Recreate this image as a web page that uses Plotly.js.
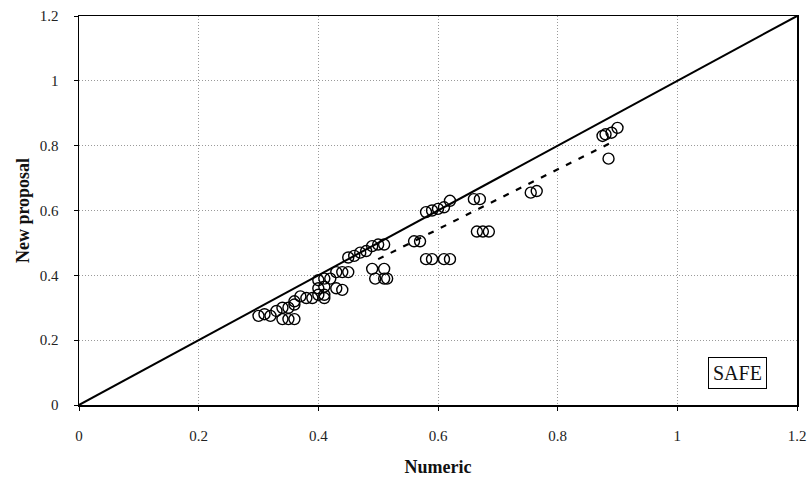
<!DOCTYPE html>
<html><head><meta charset="utf-8">
<script src="https://cdn.plot.ly/plotly-3.0.1.min.js"></script>
<style>html,body{margin:0;padding:0;background:#fff}#chart{width:810px;height:483px}</style>
</head><body><div id="chart"></div>
<script>
var numericX = [0.30,0.31,0.32,0.33,0.34,0.34,0.35,0.36,0.35,0.36,0.36,0.37,0.38,0.39,0.40,0.41,0.41,0.40,0.41,0.43,0.44,0.40,0.41,0.42,0.43,0.44,0.45,0.45,0.46,0.47,0.48,0.49,0.50,0.51,0.49,0.495,0.51,0.515,0.51,0.56,0.57,0.58,0.59,0.61,0.62,0.58,0.59,0.60,0.61,0.62,0.66,0.67,0.665,0.675,0.685,0.755,0.765,0.875,0.88,0.89,0.90,0.885];
var proposalY = [0.275,0.28,0.275,0.29,0.30,0.265,0.265,0.265,0.30,0.31,0.32,0.335,0.33,0.33,0.34,0.34,0.33,0.36,0.365,0.36,0.355,0.385,0.39,0.39,0.41,0.41,0.41,0.455,0.46,0.47,0.475,0.49,0.495,0.495,0.42,0.39,0.39,0.39,0.42,0.505,0.505,0.45,0.45,0.45,0.45,0.595,0.60,0.605,0.61,0.63,0.635,0.635,0.535,0.535,0.535,0.655,0.66,0.83,0.835,0.84,0.855,0.76];
var trendX = [0.50, 0.89];
var trendY = [0.45, 0.81];
var diagX = [0, 1.2];
var diagY = [0, 1.2];
var tickVals = [0,0.2,0.4,0.6,0.8,1,1.2];
var tickText = ['0','0.2','0.4','0.6','0.8','1','1.2'];

var serif = 'Liberation Serif, Times New Roman, serif';
var traces = [
  {x: diagX, y: diagY, mode: 'lines', line: {color: '#000', width: 2}, hoverinfo: 'skip'},
  {x: trendX, y: trendY, mode: 'lines', line: {color: '#000', width: 2.2, dash: '6px,8px'}, hoverinfo: 'skip'},
  {x: numericX, y: proposalY, mode: 'markers',
   marker: {symbol: 'circle-open', size: 11, color: '#000', line: {width: 1.4, color: '#000'}}}
];
var axisCommon = {
  range: [0, 1.2], tickvals: tickVals, ticktext: tickText,
  showgrid: true, gridcolor: '#9a9a9a', griddash: '1px,2px', gridwidth: 1,
  showline: true, linecolor: '#000', linewidth: 1.5, mirror: true,
  ticks: 'outside', ticklen: 4, tickcolor: '#000',
  zeroline: false, tickfont: {family: serif, size: 15, color: '#222'}
};
var layout = {
  width: 810, height: 483, showlegend: false,
  margin: {l: 79, r: 13, t: 16, b: 78},
  paper_bgcolor: '#fff', plot_bgcolor: '#fff',
  xaxis: Object.assign({}, axisCommon, {ticklabelstandoff: 12, title: {text: '<b>Numeric</b>', font: {family: serif, size: 18, color: '#111'}, standoff: 18}}),
  yaxis: Object.assign({}, axisCommon, {ticklabelstandoff: 12, title: {text: '<b>New proposal</b>', font: {family: serif, size: 18, color: '#111'}, standoff: 5}}),
  annotations: [{x: 1.10, y: 0.10, xref: 'x', yref: 'y', text: 'SAFE', showarrow: false,
    font: {family: serif, size: 20, color: '#111'}, bordercolor: '#000', borderwidth: 1, borderpad: 4, bgcolor: '#fff'}]
};
Plotly.newPlot('chart', traces, layout, {displayModeBar: false, staticPlot: true});
</script></body></html>
